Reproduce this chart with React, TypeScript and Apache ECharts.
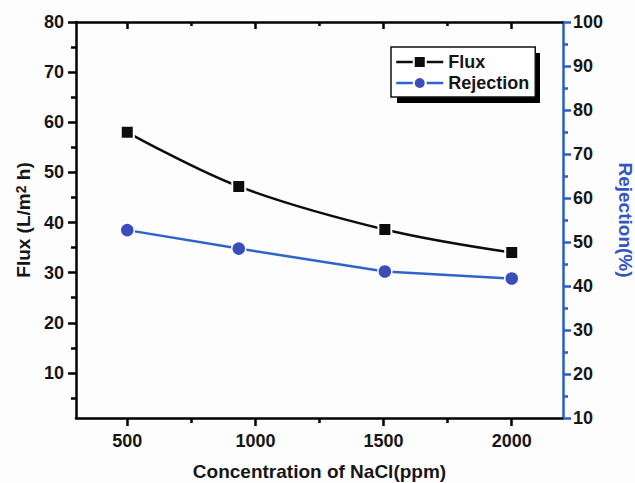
import React, { useEffect, useRef } from 'react';
import * as echarts from 'echarts';

const concentration = [500, 935, 1505, 2000];
const flux = [58.0, 47.2, 38.6, 34.0];
const rejection = [52.7, 48.5, 43.3, 41.7];

const xMajorTicks = [500, 1000, 1500, 2000];
const xMinorTicks = [750, 1250, 1750];
const fluxMajorTicks = [10, 20, 30, 40, 50, 60, 70, 80];
const fluxMinorTicks = [5, 15, 25, 35, 45, 55, 65, 75];
const rejMajorTicks = [10, 20, 30, 40, 50, 60, 70, 80, 90, 100];
const rejMinorTicks = [15, 25, 35, 45, 55, 65, 75, 85, 95];

const FONT = '"Liberation Sans", Arial, Helvetica, sans-serif';
const BLUE_AXIS = '#2b5cc6';
const BLUE_MARK = '#3b4cbc';
const BLUE_LINE = '#2f63cc';
const TXT = '#161616';

export default function App() {
  const ref = useRef<HTMLDivElement>(null);

  useEffect(() => {
    const chart = echarts.init(ref.current as HTMLDivElement, null, { renderer: 'svg' });

    const labelStyle = {
      fontFamily: FONT,
      fontSize: 18,
      fontWeight: 'bold' as const,
      color: TXT,
      formatter: (v: number) => String(v),
    };
    const hiddenAxis = { show: false };

    const option: any = {
      animation: false,
      backgroundColor: '#fdfdfe',
      grid: { left: 76, top: 22, right: 72, bottom: 65, containLabel: false, outerBoundsMode: 'none' },
      legend: {
        data: ['Flux', 'Rejection'],
        orient: 'vertical',
        left: 391,
        top: 47,
        itemWidth: 47,
        itemHeight: 15,
        itemGap: 3,
        padding: [6, 6, 5, 4],
        backgroundColor: '#ffffff',
        borderColor: '#111',
        borderWidth: 1.5,
        lineStyle: { width: 2.5 },
        textStyle: { fontFamily: FONT, fontSize: 18, fontWeight: 'bold', color: TXT },
      },
      graphic: [
        {
          type: 'rect',
          left: 397,
          top: 53,
          shape: { width: 143, height: 50 },
          style: { fill: '#000' },
          z: 0,
        },
      ],
      xAxis: [
        {
          type: 'value',
          position: 'bottom',
          min: 300,
          max: 2200,
          splitLine: { show: false },
          axisLine: { show: true, lineStyle: { color: '#000', width: 2.5 } },
          axisTick: { show: true, inside: false, length: 8, customValues: xMajorTicks, lineStyle: { color: '#000', width: 2.5 } },
          axisLabel: { ...labelStyle, margin: 14, customValues: xMajorTicks },
          name: 'Concentration of NaCl(ppm)',
          nameLocation: 'middle',
          nameGap: 44,
          nameTextStyle: { fontFamily: FONT, fontSize: 19, fontWeight: 'bold', color: TXT },
        },
        {
          type: 'value',
          position: 'top',
          min: 300,
          max: 2200,
          splitLine: { show: false },
          axisLine: { show: true, lineStyle: { color: '#000', width: 2.5 } },
          axisTick: { show: true, inside: true, length: 7, customValues: xMajorTicks, lineStyle: { color: '#000', width: 2.5 } },
          axisLabel: hiddenAxis,
        },
        {
          type: 'value',
          position: 'bottom',
          min: 300,
          max: 2200,
          splitLine: { show: false },
          axisLine: { show: false },
          axisTick: { show: true, inside: false, length: 5, customValues: xMinorTicks, lineStyle: { color: '#000', width: 2.5 } },
          axisLabel: hiddenAxis,
        },
        {
          type: 'value',
          position: 'top',
          min: 300,
          max: 2200,
          splitLine: { show: false },
          axisLine: { show: false },
          axisTick: { show: true, inside: true, length: 4, customValues: xMinorTicks, lineStyle: { color: '#000', width: 2.5 } },
          axisLabel: hiddenAxis,
        },
      ],
      yAxis: [
        {
          type: 'value',
          position: 'left',
          min: 1,
          max: 80,
          splitLine: { show: false },
          axisLine: { show: true, lineStyle: { color: '#000', width: 2.5 } },
          axisTick: { show: true, inside: false, length: 8, customValues: fluxMajorTicks, lineStyle: { color: '#000', width: 2.5 } },
          axisLabel: { ...labelStyle, margin: 12, customValues: fluxMajorTicks },
          name: '{a|Flux (L/m}{s|2}{a| h)}',
          nameLocation: 'middle',
          nameGap: 39,
          nameTextStyle: {
            fontFamily: FONT,
            fontSize: 19,
            fontWeight: 'bold',
            color: TXT,
            rich: {
              a: { fontFamily: FONT, fontSize: 19, fontWeight: 'bold', color: TXT },
              s: { fontFamily: FONT, fontSize: 14, fontWeight: 'bold', color: TXT, verticalAlign: 'top' },
            },
          },
        },
        {
          type: 'value',
          position: 'right',
          min: 10,
          max: 100,
          splitLine: { show: false },
          axisLine: { show: true, lineStyle: { color: BLUE_AXIS, width: 2.5 } },
          axisTick: { show: true, inside: false, length: 8, customValues: rejMajorTicks, lineStyle: { color: BLUE_AXIS, width: 2.5 } },
          axisLabel: { ...labelStyle, margin: 10, customValues: rejMajorTicks },
          name: 'Rejection(%)',
          nameLocation: 'middle',
          nameRotate: -90,
          nameGap: 53,
          nameTextStyle: { fontFamily: FONT, fontSize: 19, fontWeight: 'bold', color: '#3455c2' },
        },
        {
          type: 'value',
          position: 'left',
          min: 1,
          max: 80,
          splitLine: { show: false },
          axisLine: { show: false },
          axisTick: { show: true, inside: false, length: 5, customValues: fluxMinorTicks, lineStyle: { color: '#000', width: 2.5 } },
          axisLabel: hiddenAxis,
        },
        {
          type: 'value',
          position: 'right',
          min: 10,
          max: 100,
          splitLine: { show: false },
          axisLine: { show: false },
          axisTick: { show: true, inside: false, length: 5, customValues: rejMinorTicks, lineStyle: { color: BLUE_AXIS, width: 2.5 } },
          axisLabel: hiddenAxis,
        },
      ],
      series: [
        {
          name: 'Flux',
          type: 'line',
          xAxisIndex: 0,
          yAxisIndex: 0,
          data: concentration.map((c, i) => [c, flux[i]]),
          smooth: 0.35,
          symbol: 'rect',
          symbolSize: 13,
          lineStyle: { color: '#0d0d0d', width: 2.5 },
          itemStyle: { color: '#0d0d0d', borderColor: '#ffffff', borderWidth: 2 },
          z: 5,
        },
        {
          name: 'Rejection',
          type: 'line',
          xAxisIndex: 0,
          yAxisIndex: 1,
          data: concentration.map((c, i) => [c, rejection[i]]),
          symbol: 'circle',
          symbolSize: 14,
          lineStyle: { color: BLUE_LINE, width: 2.5 },
          itemStyle: { color: BLUE_MARK, borderColor: '#ffffff', borderWidth: 1.5 },
          z: 5,
        },
      ],
    };

    chart.setOption(option);
    return () => chart.dispose();
  }, []);

  return (
    <div
      ref={ref}
      style={{ position: 'fixed', left: 0, top: 0, width: 635, height: 483 }}
    />
  );
}
